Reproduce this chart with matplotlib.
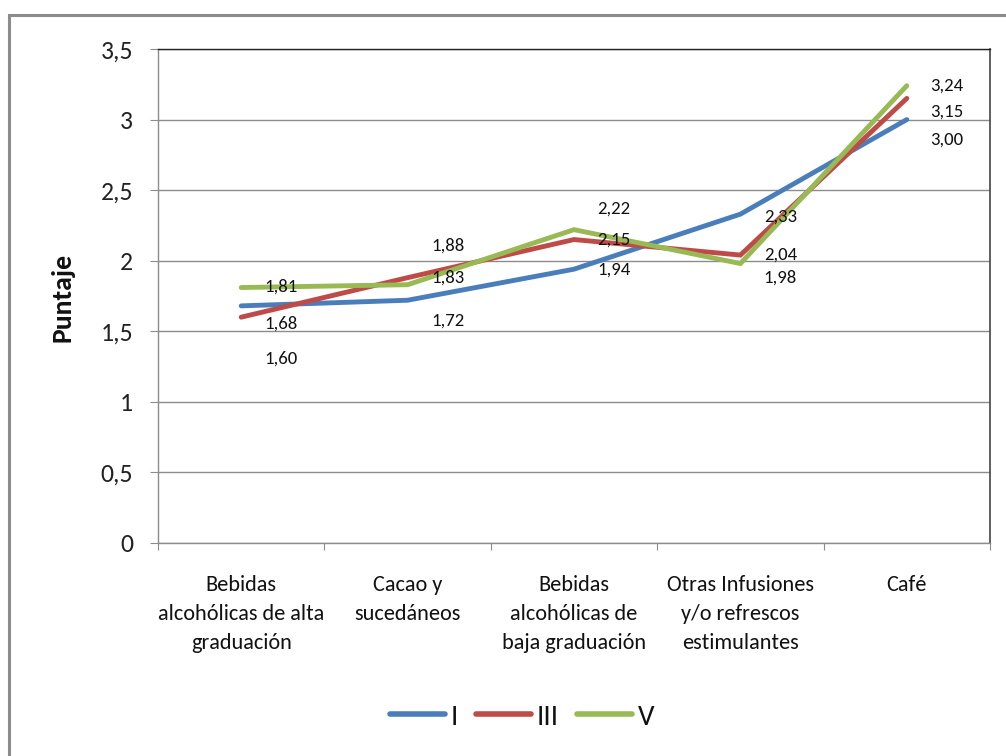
import matplotlib
matplotlib.use("Agg")
import matplotlib.pyplot as plt
from matplotlib.patches import Rectangle
from matplotlib.lines import Line2D

categories = [
    "Bebidas\nalcohólicas de alta\ngraduación",
    "Cacao y\nsucedáneos",
    "Bebidas\nalcohólicas de\nbaja graduación",
    "Otras Infusiones\ny/o refrescos\nestimulantes",
    "Café",
]
series_names = ["I", "III", "V"]
serie_i = [1.68, 1.72, 1.94, 2.33, 3.00]
serie_iii = [1.60, 1.88, 2.15, 2.04, 3.15]
serie_v = [1.81, 1.83, 2.22, 1.98, 3.24]
y_ticks = [0, 0.5, 1, 1.5, 2, 2.5, 3, 3.5]
y_tick_labels = ["0", "0,5", "1", "1,5", "2", "2,5", "3", "3,5"]

colors = ["#4A7EBB", "#BE4B48", "#98B954"]
# vertical nudges of the value labels, in pixels
label_dy = [
    [-18, -20, 0, -2, -20],
    [-41, 32, 0, 0, -13],
    [1, 7, 21, -14, 0],
]

FONT = ["Carlito", "DejaVu Sans"]

W, H = 1006, 756
fig = plt.figure(figsize=(W / 100, H / 100), dpi=100)
fig.patch.set_facecolor("white")

# outer chart frame
fig.patches.append(Rectangle((9 / W, -0.05), 1.1, (H - 15) / H + 0.05,
                             transform=fig.transFigure, fill=False,
                             edgecolor="#8C8C8C", linewidth=2.2))

ax = fig.add_axes([158 / W, 1 - 543 / H, (990 - 158) / W, (543 - 49) / H])
x = [i + 0.5 for i in range(len(categories))]

for vals, col, name in zip([serie_i, serie_iii, serie_v], colors, series_names):
    ax.plot(x, vals, color=col, linewidth=3.5, solid_capstyle="round",
            solid_joinstyle="miter", label=name, zorder=3)

for vals, dys in zip([serie_i, serie_iii, serie_v], label_dy):
    for xi, v, dy in zip(x, vals, dys):
        ax.annotate(f"{v:.2f}".replace(".", ","), (xi, v),
                    xytext=(40, dy), textcoords="offset pixels",
                    ha="center", va="center", fontsize=13.5,
                    family=FONT, color="#111111", zorder=4)

ax.set_xlim(0, len(categories))
ax.set_ylim(0, 3.5)
ax.set_yticks(y_ticks)
ax.set_yticklabels(y_tick_labels, family=FONT, fontsize=18.5, color="#222222")
ax.set_xticks(range(len(categories) + 1))
ax.set_xticklabels([])
ax.yaxis.grid(True, color="#8C8C8C", linewidth=1.0)
ax.set_axisbelow(True)
ax.tick_params(axis="y", length=6, color="#8C8C8C", pad=12)
ax.tick_params(axis="x", length=5, color="#8C8C8C", direction="out")

for s in ["left", "bottom"]:
    ax.spines[s].set_color("#8C8C8C")
    ax.spines[s].set_linewidth(1.0)
ax.spines["top"].set_color("#222222")
ax.spines["right"].set_color("#444444")
ax.spines["top"].set_linewidth(1.0)
ax.spines["right"].set_linewidth(1.2)

for xi, cat in zip(x, categories):
    ax.annotate(cat, (xi, 0), xytext=(0, -32), textcoords="offset pixels",
                ha="center", va="top", fontsize=16, family=FONT,
                linespacing=1.55, color="#111111", annotation_clip=False)

fig.text(62 / W, 1 - 297 / H, "Puntaje", rotation=90, ha="center", va="center",
         family=FONT, fontsize=20, fontweight="bold", color="#111111")

handles = [Line2D([], [], color=c, linewidth=4, solid_capstyle="round")
           for c in colors]
fig.legend(handles, series_names, loc="center", bbox_to_anchor=(522 / W, 1 - 717 / H),
           ncol=3, frameon=False, prop={"family": FONT, "size": 21},
           handlelength=1.9, handletextpad=0.2, columnspacing=0.6,
           labelcolor="#111111")

fig.savefig("out.png", dpi=100, facecolor="white")
